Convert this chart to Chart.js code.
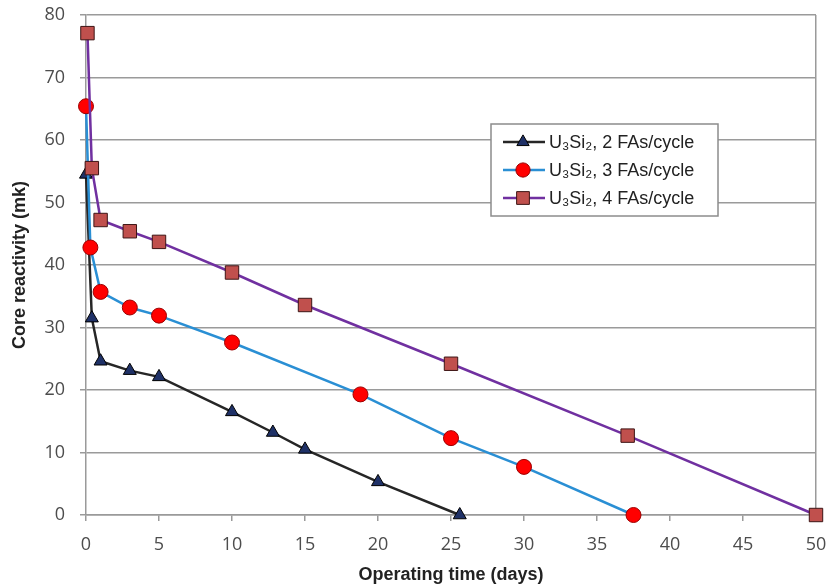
<!DOCTYPE html>
<html>
<head>
<meta charset="utf-8">
<script src="https://cdn.jsdelivr.net/npm/chart.js@4"></script>
<style>
  body { margin: 0; background: #fff; }
  #chart { display: block; }
</style>
</head>
<body>
<canvas id="chart" width="828" height="587"></canvas>
<script>
// values
const days2 = [0, 0.4, 1, 3, 5, 10, 12.8, 15, 20, 25.6]
const mk2 = [54.5, 31.5, 24.6, 23.1, 22.1, 16.5, 13.2, 10.5, 5.3, 0]
const days3 = [0, 0.3, 1, 3, 5, 10, 18.8, 25, 30, 37.5]
const mk3 = [65.4, 42.8, 35.7, 33.2, 31.9, 27.6, 19.3, 12.3, 7.7, 0]
const days4 = [0.1, 0.4, 1, 3, 5, 10, 15, 25, 37.1, 50]
const mk4 = [77.1, 55.5, 47.2, 45.4, 43.7, 38.8, 33.6, 24.2, 12.7, 0]
const labels = ['U₃Si₂, 2 FAs/cycle', 'U₃Si₂, 3 FAs/cycle', 'U₃Si₂, 4 FAs/cycle']

const pts = (xs, ys) => xs.map((x, i) => ({ x: x, y: ys[i] }))
const gridGray = '#9a9a9a'
const tickGray = '#4d4d4d'
const tickFont = { family: 'Open Sans', size: 18 }
const titleFont = { family: 'Liberation Sans', size: 18, weight: 'bold' }

function drawMarker(ctx, style, x, y, r) {
  if (style === 'circle') {
    ctx.arc(x, y, r, 0, Math.PI * 2)
  } else if (style === 'rect') {
    const s = Math.SQRT1_2 * r
    ctx.rect(x - s, y - s, 2 * s, 2 * s)
  } else {
    ctx.moveTo(x, y - r)
    ctx.lineTo(x + r * 0.866, y + r * 0.5)
    ctx.lineTo(x - r * 0.866, y + r * 0.5)
    ctx.closePath()
  }
}

// excel-style legend box with line + marker samples
const boxLegend = {
  id: 'boxLegend',
  afterDraw(chart) {
    const ctx = chart.ctx
    const left = 491, top = 124, w = 227, h = 92
    ctx.save()
    ctx.fillStyle = '#fff'
    ctx.fillRect(left, top, w, h)
    ctx.strokeStyle = '#8c8c8c'
    ctx.lineWidth = 1.5
    ctx.strokeRect(left, top, w, h)
    chart.data.datasets.forEach((ds, i) => {
      const y = top + 18 + i * 28
      ctx.strokeStyle = ds.borderColor
      ctx.lineWidth = 2.5
      ctx.beginPath()
      ctx.moveTo(503, y)
      ctx.lineTo(545, y)
      ctx.stroke()
      ctx.fillStyle = ds.pointBackgroundColor
      ctx.strokeStyle = ds.pointBorderColor
      ctx.lineWidth = 1
      ctx.beginPath()
      drawMarker(ctx, ds.pointStyle, 523, y, ds.pointRadius * 0.95)
      ctx.fill()
      ctx.stroke()
      ctx.fillStyle = '#222'
      ctx.font = '18px "Liberation Sans", Arial, sans-serif'
      ctx.textBaseline = 'middle'
      ctx.fillText(ds.label, 549, y + 1)
    })
    ctx.restore()
  }
}

const ctx = document.getElementById('chart').getContext('2d')
const chart = new Chart(ctx, {
  type: 'scatter',
  data: {
    datasets: [{
      label: labels[0],
      data: pts(days2, mk2),
      showLine: true,
      clip: false,
      borderColor: '#262626',
      borderWidth: 2.5,
      pointStyle: 'triangle',
      pointRadius: 7.5,
      pointBackgroundColor: '#1f3167',
      pointBorderColor: '#000',
      pointBorderWidth: 1,
      order: 3
    }, {
      label: labels[1],
      data: pts(days3, mk3),
      showLine: true,
      clip: false,
      borderColor: '#2a8fd4',
      borderWidth: 2.5,
      pointStyle: 'circle',
      pointRadius: 7.5,
      pointBackgroundColor: '#ff0000',
      pointBorderColor: '#9b0000',
      pointBorderWidth: 1,
      order: 2
    }, {
      label: labels[2],
      data: pts(days4, mk4),
      showLine: true,
      clip: false,
      borderColor: '#7030a0',
      borderWidth: 2.5,
      pointStyle: 'rect',
      pointRadius: 9.5,
      pointBackgroundColor: '#c0504d',
      pointBorderColor: '#3d1515',
      pointBorderWidth: 1,
      order: 1
    }]
  },
  options: {
    responsive: false,
    animation: false,
    devicePixelRatio: 1,
    layout: { padding: { top: 15, right: 12, left: 0, bottom: 0 } },
    plugins: {
      legend: { display: false },
      tooltip: { enabled: false }
    },
    scales: {
      x: {
        type: 'linear',
        min: 0,
        max: 50,
        ticks: { stepSize: 5, color: tickGray, font: tickFont, padding: 13 },
        grid: {
          color: (c) => (c.tick && c.tick.value === 50 ? gridGray : 'rgba(0,0,0,0)'),
          tickColor: gridGray,
          tickLength: 6,
          lineWidth: 1.5
        },
        border: { color: gridGray, width: 1.5 },
        title: {
          display: true,
          text: 'Operating time (days)',
          color: '#222',
          font: titleFont,
          padding: { top: 0, bottom: 1 }
        },
        afterFit: (s) => {
          s.height = 72
          s.paddingLeft = 0
          s.paddingRight = 0
        }
      },
      y: {
        min: 0,
        max: 80,
        ticks: { stepSize: 10, color: tickGray, font: tickFont, padding: 15 },
        grid: { color: gridGray, lineWidth: 1.5, tickLength: 6 },
        border: { color: gridGray, width: 1.5 },
        title: {
          display: true,
          text: 'Core reactivity (mk)',
          color: '#222',
          font: titleFont,
          padding: { top: 9, bottom: 0 }
        },
        afterFit: (s) => {
          s.width = 86
          s.paddingTop = 0
          s.paddingBottom = 0
        }
      }
    }
  },
  plugins: [boxLegend]
})
</script>
</body>
</html>
